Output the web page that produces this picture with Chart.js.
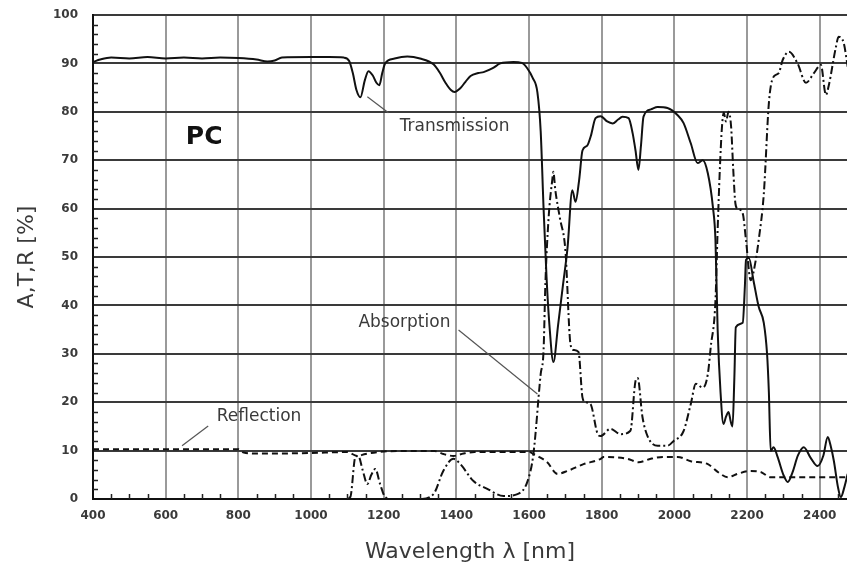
<!DOCTYPE html>
<html>
<head>
<meta charset="utf-8">
<title>PC – A, T, R spectrum</title>
<script src="https://cdn.jsdelivr.net/npm/chart.js@4.4.1/dist/chart.umd.min.js"></script>
<style>
  html, body { margin: 0; padding: 0; background: #fff; }
  canvas { display: block; }
</style>
</head>
<body>
<canvas id="spectrum" width="847" height="574"></canvas>
<script>
// ─── Data (wavelength in nm, values in %) ─────────────────────────────────────

const transWl = [
  400, 420, 450, 500, 550, 600, 650, 700, 750, 800, 850, 880, 900, 920, 1000,
  1050, 1090, 1105, 1115, 1125, 1136, 1148, 1158, 1170, 1180, 1188, 1196, 1204,
  1230, 1265, 1300, 1337, 1355, 1370, 1385, 1395, 1410, 1425, 1439, 1460, 1475,
  1500, 1521, 1557, 1580, 1595, 1610, 1623, 1632, 1640, 1648, 1656, 1667, 1680,
  1693, 1706, 1719, 1728, 1738, 1747, 1760, 1770, 1783, 1797, 1815, 1830, 1845,
  1857, 1874, 1885, 1893, 1901, 1908, 1915, 1935, 1954, 1981, 2009, 2025, 2045,
  2064, 2078, 2092, 2106, 2113, 2119, 2127, 2135, 2142, 2149, 2155, 2160, 2165,
  2169, 2188, 2194, 2197, 2205, 2218, 2232, 2246, 2255, 2260, 2265, 2273, 2284,
  2300, 2312, 2325, 2340, 2356, 2375, 2394, 2410, 2422, 2430, 2439, 2450, 2458,
  2468, 2477,
];
const transVal = [
  90.3, 90.8, 91.2, 91.0, 91.3, 91.0, 91.2, 91.0, 91.2, 91.1, 90.8, 90.4, 90.6, 91.2, 91.3,
  91.3, 91.2, 90.5, 88.0, 84.5, 83.0, 86.5, 88.4, 87.5, 86.0, 85.5, 88.0, 90.0,
  91.0, 91.4, 91.0, 89.8, 88.0, 86.0, 84.5, 84.1, 84.8, 86.2, 87.4, 88.0, 88.2,
  89.0, 90.0, 90.3, 90.1, 89.0, 87.0, 84.0, 76.0, 60.0, 46.0, 36.0, 28.3, 36.0,
  44.0, 52.0, 63.8, 61.4, 66.0, 72.0, 73.0, 75.0, 78.7, 79.1, 78.0, 77.6, 78.4,
  79.0, 78.7, 75.6, 72.0, 68.0, 73.0, 79.0, 80.5, 81.0, 80.8, 79.3, 77.7, 73.5,
  69.4, 70.0, 67.3, 60.3, 53.5, 35.0, 22.0, 15.5, 17.0, 18.0, 16.0, 15.0, 25.0,
  35.5, 36.4, 44.0, 49.4, 49.8, 45.0, 39.7, 36.4, 30.0, 22.0, 9.9, 10.7, 8.7,
  5.0, 3.5, 5.5, 9.0, 10.7, 8.5, 6.8, 9.0, 12.8, 11.0, 7.8, 2.5, 0.4,
  2.5, 5.2,
];

const absWl = [
  840, 900, 1000, 1090, 1108, 1122, 1130, 1142, 1155, 1166, 1177, 1190, 1204,
  1220, 1300, 1337, 1364, 1392, 1411, 1447, 1485, 1530, 1568, 1596, 1612, 1632,
  1640, 1645, 1654, 1664, 1667, 1672, 1685, 1700, 1714, 1722, 1736, 1747, 1755,
  1769, 1789, 1797, 1824, 1852, 1879, 1893, 1899, 1912, 1926, 1954, 1981, 1998,
  2025, 2045, 2059, 2078, 2092, 2100, 2113, 2119, 2125, 2131, 2136, 2142, 2149,
  2156, 2162, 2168, 2174, 2188, 2197, 2210, 2224, 2232, 2246, 2260, 2271, 2287,
  2298, 2315, 2339, 2362, 2384, 2403, 2417, 2425, 2444, 2452, 2466, 2477,
];
const absVal = [
  0, 0, 0, 0, 0.4, 8.7, 8.9, 6.0, 3.1, 5.0, 6.2, 3.1, 0.4,
  0, 0, 1.0, 5.8, 8.3, 7.2, 3.7, 2.1, 0.6, 1.0, 3.7, 9.3, 25.8,
  30.8, 44.6, 58.3, 66.0, 67.6, 64.0, 58.0, 51.4, 32.0, 30.8, 30.4, 21.0, 20.0,
  19.6, 13.4, 13.0, 14.5, 13.4, 14.1, 24.4, 25.0, 17.0, 13.0, 11.0, 11.0, 12.0,
  14.0, 19.6, 23.8, 23.0, 25.8, 31.4, 41.0, 55.6, 68.0, 77.0, 79.8, 78.0, 80.0,
  77.0, 68.0, 61.0, 60.0, 59.0, 53.5, 45.2, 49.4, 53.5, 63.0, 81.8, 87.0, 88.0,
  90.7, 92.4, 90.0, 86.0, 88.0, 89.7, 83.5, 85.5, 93.2, 95.5, 94.2, 89.3,
];

const reflWl = [
  400, 800, 815, 850, 900, 1000, 1100, 1127, 1150, 1200, 1250, 1340, 1364, 1392,
  1420, 1450, 1600, 1612, 1630, 1650, 1678, 1706, 1750, 1797, 1805, 1871, 1901,
  1935, 1971, 2009, 2045, 2092, 2119, 2147, 2174, 2210, 2237, 2265, 2301, 2477,
];
const reflVal = [
  10.3, 10.3, 9.6, 9.4, 9.4, 9.5, 9.7, 8.9, 9.3, 9.8, 9.9, 9.9, 9.3, 8.9,
  9.4, 9.7, 9.7, 9.3, 8.6, 7.6, 5.2, 5.8, 7.2, 8.3, 8.7, 8.3, 7.6,
  8.3, 8.7, 8.7, 7.8, 7.2, 5.6, 4.5, 5.2, 5.8, 5.6, 4.5, 4.5, 4.5,
];

// Axis ranges and steps
const X_MIN = 400;
const X_MAX = 2475;
const X_STEP = 200;
const X_MINOR = 50;
const Y_MIN = 0;
const Y_MAX = 100;
const Y_STEP = 10;
const Y_MINOR = 2;

// Curve labels with their leader lines, in data units
const notes = [
  { text: 'Transmission', at: [1395, 77.0], line: [[1155, 83.1], [1213, 79.8]] },
  { text: 'Absorption', at: [1257, 36.4], line: [[1406, 34.9], [1623, 21.7]] },
  { text: 'Reflection', at: [857, 17.1], line: [[717, 15.1], [645, 11.0]] },
];
const sampleName = { text: 'PC', at: [706, 74.6] };

// ─── Helpers ─────────────────────────────────────────────────────────────────

const toPoints = (wl, val) => wl.map((w, i) => ({ x: w, y: val[i] }));

const INK = '#111';
const TEXT = '#3a3a3a';

// Minor ticks along both axes, then the curve labels on top
const overlay = {
  id: 'overlay',
  afterDatasetsDraw(chart) {
    const { ctx, chartArea: area, scales: { x, y } } = chart;
    ctx.save();

    ctx.strokeStyle = '#222';
    ctx.lineWidth = 1.5;
    ctx.beginPath();
    for (let v = Y_MIN + Y_MINOR; v < Y_MAX; v += Y_MINOR) {
      if (v % Y_STEP === 0) continue;
      const py = Math.round(y.getPixelForValue(v)) + 0.5;
      ctx.moveTo(area.left, py);
      ctx.lineTo(area.left + 5, py);
    }
    for (let w = X_MIN + X_MINOR; w < X_MAX; w += X_MINOR) {
      if ((w - X_MIN) % X_STEP === 0) continue;
      const px = Math.round(x.getPixelForValue(w)) + 0.5;
      ctx.moveTo(px, area.bottom);
      ctx.lineTo(px, area.bottom - 5);
    }
    ctx.stroke();

    ctx.strokeStyle = '#555';
    ctx.lineWidth = 1.2;
    ctx.fillStyle = TEXT;
    ctx.font = '17px "DejaVu Sans"';
    ctx.textAlign = 'center';
    ctx.textBaseline = 'middle';
    notes.forEach(({ text, at, line }) => {
      ctx.beginPath();
      ctx.moveTo(x.getPixelForValue(line[0][0]), y.getPixelForValue(line[0][1]));
      ctx.lineTo(x.getPixelForValue(line[1][0]), y.getPixelForValue(line[1][1]));
      ctx.stroke();
      ctx.fillText(text, x.getPixelForValue(at[0]), y.getPixelForValue(at[1]));
    });

    ctx.fillStyle = INK;
    ctx.font = 'bold 25px "DejaVu Sans"';
    ctx.fillText(sampleName.text, x.getPixelForValue(sampleName.at[0]), y.getPixelForValue(sampleName.at[1]));

    ctx.restore();
  },
};

// ─── Chart ───────────────────────────────────────────────────────────────────

Chart.defaults.font.family = '"DejaVu Sans", Verdana, sans-serif';

const lineStyle = {
  borderColor: INK,
  borderWidth: 2,
  pointRadius: 0,
  fill: false,
  cubicInterpolationMode: 'monotone',
};

new Chart(document.getElementById('spectrum'), {
  type: 'line',
  data: {
    datasets: [
      { label: 'Transmission', data: toPoints(transWl, transVal), ...lineStyle },
      { label: 'Absorption', data: toPoints(absWl, absVal), ...lineStyle, borderDash: [8, 3, 2, 3] },
      { label: 'Reflection', data: toPoints(reflWl, reflVal), ...lineStyle, borderDash: [6, 4] },
    ],
  },
  options: {
    responsive: false,
    animation: false,
    layout: { padding: { top: 15, right: 0, left: 0, bottom: 0 } },
    plugins: {
      legend: { display: false },
      tooltip: { enabled: false },
    },
    scales: {
      x: {
        type: 'linear',
        min: X_MIN,
        max: X_MAX,
        afterFit: (scale) => { scale.height = 75; },
        ticks: {
          stepSize: X_STEP,
          includeBounds: false,
          padding: 10,
          color: TEXT,
          font: { size: 12, weight: 'bold' },
          maxRotation: 0,
          callback: (v) => String(v),
        },
        grid: { color: '#9a9a9a', lineWidth: 2, drawTicks: false },
        border: { color: INK, width: 2 },
        title: {
          display: true,
          text: 'Wavelength λ [nm]',
          color: TEXT,
          font: { size: 22, weight: 'normal' },
          padding: { top: 0, bottom: 9 },
        },
      },
      y: {
        min: Y_MIN,
        max: Y_MAX,
        afterFit: (scale) => {
          // fixed gutter; the top label may overhang into the layout padding
          scale.width = 93;
          scale.paddingTop = 0;
          scale.paddingBottom = 0;
        },
        ticks: {
          stepSize: Y_STEP,
          padding: 15,
          color: TEXT,
          font: { size: 12, weight: 'bold' },
        },
        grid: { color: '#3a3a3a', lineWidth: 2, drawTicks: false },
        border: { color: INK, width: 2 },
        title: {
          display: true,
          text: 'A,T,R [%]',
          color: TEXT,
          font: { size: 22, weight: 'normal' },
          padding: { top: 14, bottom: 0 },
        },
      },
    },
  },
  plugins: [overlay],
});
</script>
</body>
</html>
